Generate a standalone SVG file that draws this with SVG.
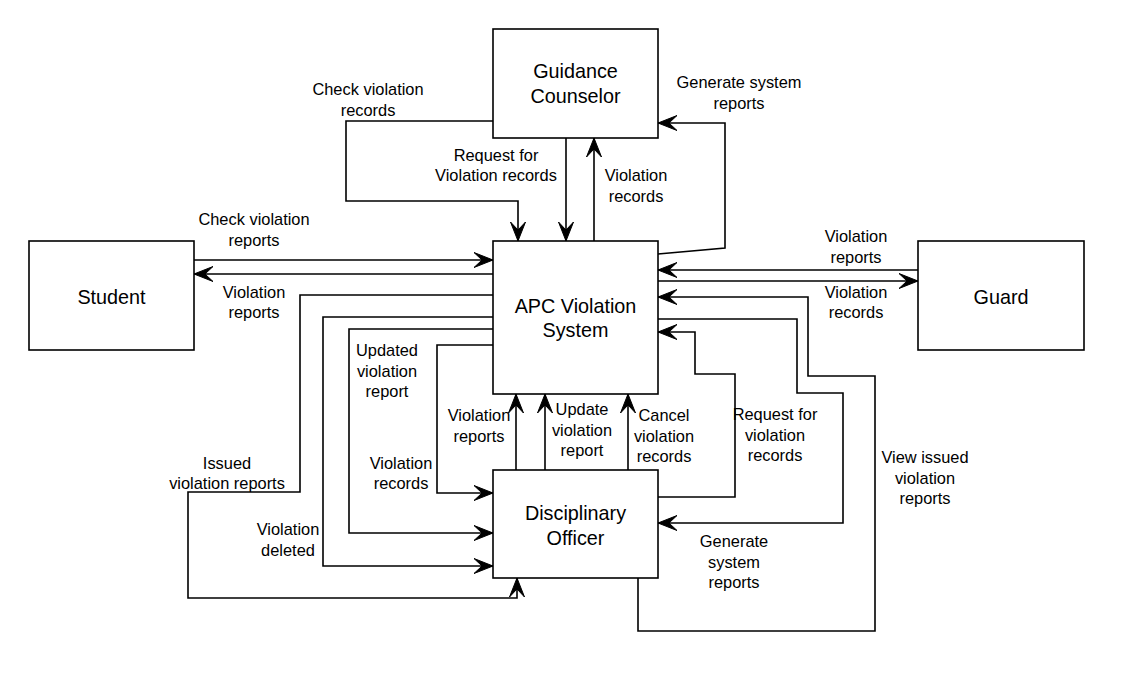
<svg xmlns="http://www.w3.org/2000/svg" width="1127" height="673" viewBox="0 0 1127 673">
<style>
.box{fill:#fff;stroke:#000;stroke-width:1.6}
.ln{fill:none;stroke:#000;stroke-width:1.6;marker-end:url(#arr)}
.ln2{fill:none;stroke:#000;stroke-width:1.6}
.nt{font-family:"Liberation Sans",Arial,sans-serif;font-size:19.8px;fill:#000;text-anchor:middle}
.lt{font-family:"Liberation Sans",Arial,sans-serif;font-size:16.4px;fill:#000;text-anchor:middle}
</style>
<defs>
<marker id="arr" viewBox="-20 -8 21 16" refX="0" refY="0" markerWidth="21" markerHeight="16" markerUnits="userSpaceOnUse" orient="auto">
<path d="M0,0 L-19,-7.5 L-11,0 L-19,7.5 Z" fill="#000" stroke="#000" stroke-width="1"/>
</marker>
</defs>
<rect width="1127" height="673" fill="#fff"/>
<g id="connectors">
<polyline class="ln" points="493,121 346,121 346,201 518,201 518,241"/>
<polyline class="ln" points="566,138 566,241"/>
<polyline class="ln" points="594,241 594,138"/>
<polyline class="ln" points="658,254 725,248 725,123 658,123"/>
<polyline class="ln" points="194,260 493,260"/>
<polyline class="ln" points="493,274 194,274"/>
<polyline class="ln" points="493,295 300,295 300,492 188,492 188,598 517,598 517,578"/>
<polyline class="ln" points="493,317 323,317 323,566 493,566"/>
<polyline class="ln" points="493,329 349,329 349,533 493,533"/>
<polyline class="ln" points="493,345 437,345 437,493 493,493"/>
<polyline class="ln" points="516,470 516,394"/>
<polyline class="ln" points="545,470 545,394"/>
<polyline class="ln" points="628,470 628,394"/>
<polyline class="ln" points="918,270 658,270"/>
<polyline class="ln" points="658,281 918,281"/>
<polyline class="ln" points="638,578 638,631 875,631 875,376 808,376 808,297 658,297"/>
<polyline class="ln" points="658,319 797,319 797,393 843,393 843,523 658,523"/>
<polyline class="ln" points="658,497 735,497 735,374 695,374 695,332 658,332"/>
</g>
<g id="labels">
<text class="lt" x="368" y="95">Check violation<tspan x="368" dy="20.5">records</tspan></text>
<text class="lt" x="739" y="88">Generate system<tspan x="739" dy="20.5">reports</tspan></text>
<text class="lt" x="496" y="161">Request for<tspan x="496" dy="20">Violation records</tspan></text>
<text class="lt" x="636" y="181">Violation<tspan x="636" dy="20.5">records</tspan></text>
<text class="lt" x="254" y="225">Check violation<tspan x="254" dy="20.5">reports</tspan></text>
<text class="lt" x="254" y="298">Violation<tspan x="254" dy="20">reports</tspan></text>
<text class="lt" x="856" y="242">Violation<tspan x="856" dy="20.5">reports</tspan></text>
<text class="lt" x="856" y="298">Violation<tspan x="856" dy="20">records</tspan></text>
<text class="lt" x="387" y="356">Updated<tspan x="387" dy="20.5">violation</tspan><tspan x="387" dy="20.5">report</tspan></text>
<text class="lt" x="479" y="421">Violation<tspan x="479" dy="20.5">reports</tspan></text>
<text class="lt" x="582" y="415">Update<tspan x="582" dy="20.5">violation</tspan><tspan x="582" dy="20.5">report</tspan></text>
<text class="lt" x="664" y="421">Cancel<tspan x="664" dy="20.5">violation</tspan><tspan x="664" dy="20.5">records</tspan></text>
<text class="lt" x="775" y="420">Request for<tspan x="775" dy="20.7">violation</tspan><tspan x="775" dy="20.7">records</tspan></text>
<text class="lt" x="734" y="547">Generate<tspan x="734" dy="20.7">system</tspan><tspan x="734" dy="20.7">reports</tspan></text>
<text class="lt" x="925" y="463">View issued<tspan x="925" dy="20.5">violation</tspan><tspan x="925" dy="20.5">reports</tspan></text>
<text class="lt" x="401" y="469">Violation<tspan x="401" dy="20">records</tspan></text>
<text class="lt" x="227" y="469">Issued<tspan x="227" dy="20">violation reports</tspan></text>
<text class="lt" x="288" y="535">Violation<tspan x="288" dy="20.5">deleted</tspan></text>
</g>
<g id="guidance">
<rect class="box" x="493" y="29" width="165" height="109"/>
<text class="nt" x="575.5" y="78">Guidance<tspan x="575.5" dy="24.5">Counselor</tspan></text>
</g>
<g id="apc">
<rect class="box" x="493" y="241" width="165" height="153"/>
<text class="nt" x="575.5" y="313">APC Violation<tspan x="575.5" dy="24">System</tspan></text>
</g>
<g id="officer">
<rect class="box" x="493" y="470" width="165" height="108"/>
<text class="nt" x="575.5" y="520">Disciplinary<tspan x="575.5" dy="24.5">Officer</tspan></text>
</g>
<g id="student">
<rect class="box" x="29" y="241" width="165" height="109"/>
<text class="nt" x="111.5" y="304">Student</text>
</g>
<g id="guard">
<rect class="box" x="918" y="241" width="166" height="109"/>
<text class="nt" x="1001" y="304">Guard</text>
</g>
</svg>
